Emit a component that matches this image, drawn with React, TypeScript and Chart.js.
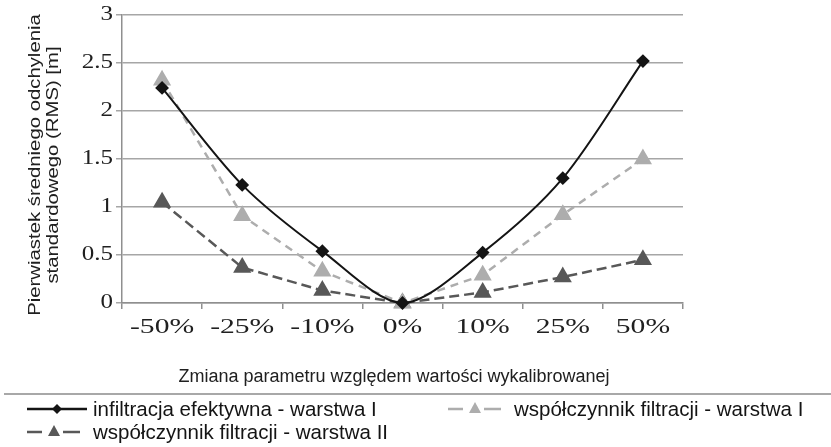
import React, { useEffect, useRef } from 'react';
import { Chart, registerables } from 'chart.js';

Chart.register(...registerables);

const categories = ['-50%', '-25%', '-10%', '0%', '10%', '25%', '50%'];
const infiltracjaI = [2.24, 1.23, 0.54, 0, 0.525, 1.3, 2.52];
const filtracjaI = [2.32, 0.91, 0.33, 0, 0.29, 0.92, 1.5];
const filtracjaII = [1.05, 0.37, 0.13, 0, 0.11, 0.27, 0.45];
const seriesNames = [
  'infiltracja efektywna - warstwa I',
  'współczynnik filtracji - warstwa I',
  'współczynnik filtracji - warstwa II',
];
const yTicks = [0, 0.5, 1, 1.5, 2, 2.5, 3];
const yTitle = ['Pierwiastek średniego odchylenia', 'standardowego (RMS) [m]'];
const xTitle = 'Zmiana parametru względem wartości wykalibrowanej';

const BLACK = '#141414';
const LIGHT = '#adadad';
const DARK = '#585858';

function withStretch(ctx: any, sx: number, fn: () => void) {
  if (sx === 1) { fn(); return; }
  const proto = Object.getPrototypeOf(ctx);
  const orig = proto.fillText;
  ctx.fillText = function (text: string, x: number, y: number) {
    this.save();
    this.translate(x, y);
    this.scale(sx, 1);
    orig.call(this, text, 0, 0);
    this.restore();
  };
  try { fn(); } finally { delete ctx.fillText; }
}

const stretchPlugin = {
  id: 'stretchTicks',
  beforeDraw(chart: any) {
    const cfg: any = { x: 1.48, y: 1.25 };
    for (const id of ['x', 'y']) {
      const s = chart.scales[id];
      if (!s || s._patched) continue;
      s._patched = true;
      const dl = s.drawLabels.bind(s);
      s.drawLabels = (ca: any) => withStretch(chart.ctx, cfg[id], () => dl(ca));
    }
  },
};

const decorPlugin = {
  id: 'decor',
  afterDraw(chart: any) {
    const ctx = chart.ctx;
    ctx.save();
    // Y title
    ctx.fillStyle = '#202020';
    ctx.font = '16px "Liberation Sans", Arial, sans-serif';
    ctx.textAlign = 'center';
    ctx.textBaseline = 'middle';
    const yx = [36, 54];
    yTitle.forEach((t, i) => {
      ctx.save();
      ctx.translate(yx[i], 165);
      ctx.rotate(-Math.PI / 2);
      ctx.scale(1.27, 1);
      ctx.fillText(t, 0, 0);
      ctx.restore();
    });
    // X title
    ctx.font = '18px "Liberation Sans", Arial, sans-serif';
    ctx.fillText(xTitle, 394, 377);
    // separator
    ctx.strokeStyle = '#a8a8a8';
    ctx.lineWidth = 2;
    ctx.beginPath();
    ctx.moveTo(4, 394);
    ctx.lineTo(831, 394);
    ctx.stroke();
    // legend
    const items = [
      { x: 27, y: 409, color: BLACK, solid: true, name: seriesNames[0] },
      { x: 448, y: 409, color: LIGHT, solid: false, name: seriesNames[1] },
      { x: 27, y: 432, color: DARK, solid: false, name: seriesNames[2] },
    ];
    ctx.font = '20.5px "Liberation Sans", Arial, sans-serif';
    ctx.textAlign = 'left';
    items.forEach((it) => {
      ctx.strokeStyle = it.color;
      ctx.fillStyle = it.color;
      ctx.lineWidth = 2.5;
      if (it.solid) {
        ctx.beginPath();
        ctx.moveTo(it.x, it.y);
        ctx.lineTo(it.x + 60, it.y);
        ctx.stroke();
        const cx = it.x + 30;
        const r = 5;
        ctx.beginPath();
        ctx.moveTo(cx, it.y - r);
        ctx.lineTo(cx + r, it.y);
        ctx.lineTo(cx, it.y + r);
        ctx.lineTo(cx - r, it.y);
        ctx.closePath();
        ctx.fill();
      } else {
        ctx.beginPath();
        ctx.moveTo(it.x, it.y);
        ctx.lineTo(it.x + 15, it.y);
        ctx.moveTo(it.x + 36, it.y);
        ctx.lineTo(it.x + 53, it.y);
        ctx.stroke();
        const cx = it.x + 27;
        ctx.beginPath();
        ctx.moveTo(cx, it.y - 7);
        ctx.lineTo(cx + 6, it.y + 4);
        ctx.lineTo(cx - 6, it.y + 4);
        ctx.closePath();
        ctx.fill();
      }
      ctx.fillStyle = '#141414';
      ctx.fillText(it.name, it.x + 66, it.y + 1);
    });
    ctx.restore();
  },
};

export default function App() {
  const ref = useRef<HTMLCanvasElement | null>(null);
  useEffect(() => {
    document.body.style.margin = '0';
    const canvas = ref.current;
    if (!canvas) return;
    const chart = new Chart(canvas, {
      type: 'line',
      data: {
        labels: categories,
        datasets: [
          {
            label: seriesNames[0],
            data: infiltracjaI,
            borderColor: BLACK,
            backgroundColor: BLACK,
            borderWidth: 2,
            pointStyle: 'rectRot',
            pointRadius: 5.5,
            tension: 0.3,
            clip: false,
          },
          {
            label: seriesNames[1],
            data: filtracjaI,
            borderColor: LIGHT,
            backgroundColor: LIGHT,
            borderWidth: 2.5,
            borderDash: [8, 6],
            pointStyle: 'triangle',
            pointRadius: 8,
            tension: 0,
            clip: false,
          },
          {
            label: seriesNames[2],
            data: filtracjaII,
            borderColor: DARK,
            backgroundColor: DARK,
            borderWidth: 2.5,
            borderDash: [10, 5],
            pointStyle: 'triangle',
            pointRadius: 8,
            tension: 0,
            clip: false,
          },
        ],
      },
      options: {
        responsive: false,
        animation: false,
        layout: { padding: { top: 14, right: 148, bottom: 0, left: 0 } },
        plugins: {
          legend: { display: false },
          tooltip: { enabled: false },
        },
        scales: {
          x: {
            type: 'category',
            offset: true,
            afterFit: (s: any) => { s.height = 144; },
            grid: { offset: true, drawOnChartArea: false, drawTicks: true, tickLength: 6, color: '#8f8f8f', lineWidth: 1.5 },
            border: { color: '#8f8f8f', width: 1.5 },
            ticks: {
              color: '#202020',
              padding: 7,
              maxRotation: 0,
              autoSkip: false,
              font: { family: '"Liberation Serif", "Times New Roman", serif', size: 20 },
            },
          },
          y: {
            min: 0,
            max: 3,
            afterFit: (s: any) => { s.width = 122; },
            afterBuildTicks: (s: any) => { s.ticks = yTicks.map((v) => ({ value: v })); },
            grid: { color: '#a6a6a6', lineWidth: 1.5, drawTicks: true, tickLength: 6 },
            border: { color: '#8f8f8f', width: 1.5 },
            ticks: {
              color: '#202020',
              padding: 3,
              callback: (v: any) => String(v),
              font: { family: '"Liberation Serif", "Times New Roman", serif', size: 20 },
            },
          },
        },
      },
      plugins: [stretchPlugin, decorPlugin],
    });
    return () => chart.destroy();
  }, []);
  return (
    <div style={{ width: 831, height: 447 }}>
      <canvas ref={ref} width={831} height={447} style={{ display: 'block' }} />
    </div>
  );
}
